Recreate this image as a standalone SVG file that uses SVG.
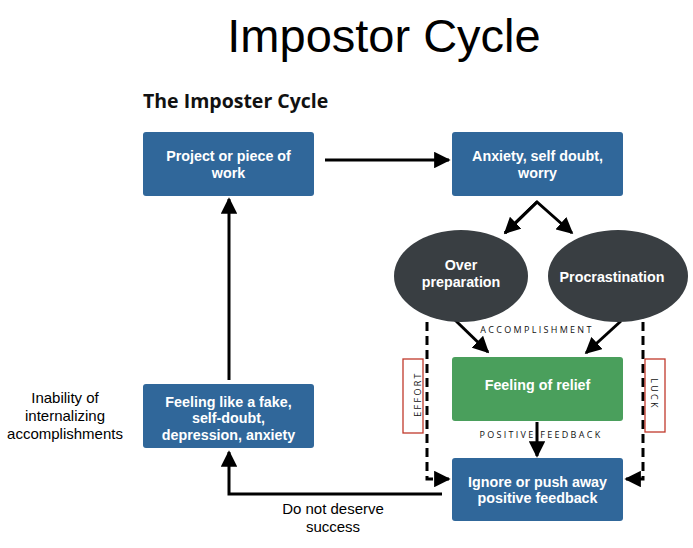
<svg xmlns="http://www.w3.org/2000/svg" width="693" height="548" viewBox="0 0 693 548">
<style>
.box{fill:#30679a}
.ell{fill:#393e42}
.green{fill:#4a9f5c}
.bt{font-family:"Liberation Sans",Arial,sans-serif;font-weight:700;font-size:14.3px;fill:#fff;text-anchor:middle}
.lbl{font-family:"Liberation Sans",Arial,sans-serif;font-size:15px;fill:#000;text-anchor:middle}
.cap{font-family:"Open Sans","Noto Sans",sans-serif;font-size:9px;letter-spacing:2.3px;fill:#111;text-anchor:middle}
.ln{stroke:#000;stroke-width:3;fill:none}
.dash{stroke:#000;stroke-width:3;fill:none;stroke-dasharray:9,5}
.tag{fill:#fff;stroke:#c0392b;stroke-width:1.3}
</style>
<defs>
<marker id="ah" viewBox="0 0 10 10" refX="9" refY="5" markerWidth="5.5" markerHeight="5.5" markerUnits="strokeWidth" orient="auto">
<path d="M0,0 L10,5 L0,10 Z" fill="#000"/>
</marker>
</defs>
<rect width="693" height="548" fill="#fff"/>
<text x="384" y="52" font-family="Liberation Sans,Arial,sans-serif" font-size="47" text-anchor="middle" fill="#000">Impostor Cycle</text>
<text x="143" y="108" font-family="Open Sans,Noto Sans,sans-serif" font-weight="700" font-size="19.5" fill="#111">The Imposter Cycle</text>

<g id="connectors">
<line class="ln" x1="325" y1="160" x2="449" y2="160" marker-end="url(#ah)"/>
<polyline class="ln" points="505,233 537,202 572,233" marker-end="url(#ah)"/>
<line class="ln" x1="537" y1="202" x2="505" y2="233" marker-end="url(#ah)"/>
<line class="ln" x1="455" y1="320" x2="488" y2="352" marker-end="url(#ah)"/>
<line class="ln" x1="621" y1="321" x2="586" y2="353" marker-end="url(#ah)"/>
<line class="ln" x1="537" y1="422" x2="537" y2="456" marker-end="url(#ah)"/>
<polyline class="dash" points="427,322 427,479 440,479"/>
<line class="ln" x1="436" y1="479" x2="449" y2="479" marker-end="url(#ah)"/>
<polyline class="dash" points="643,322 643,479 630,479"/>
<line class="ln" x1="634" y1="479" x2="626" y2="479" marker-end="url(#ah)"/>
<polyline class="ln" points="442,494 229,494 229,452" marker-end="url(#ah)"/>
<line class="ln" x1="229" y1="380" x2="229" y2="199" marker-end="url(#ah)"/>
</g>

<g id="project">
<rect class="box" x="143" y="132" width="171" height="64" rx="3"/>
<text class="bt" x="228.5" y="161">Project or piece of</text>
<text class="bt" x="228.5" y="177.5">work</text>
</g>
<g id="anxiety">
<rect class="box" x="452" y="132" width="171" height="64" rx="3"/>
<text class="bt" x="537.5" y="161">Anxiety, self doubt,</text>
<text class="bt" x="537.5" y="177.5">worry</text>
</g>
<g id="overprep">
<ellipse class="ell" cx="461" cy="276" rx="67" ry="46"/>
<text class="bt" x="461" y="270">Over</text>
<text class="bt" x="461" y="286.5">preparation</text>
</g>
<g id="procrastination">
<ellipse class="ell" cx="618" cy="276" rx="70" ry="46"/>
<text class="bt" x="612" y="282">Procrastination</text>
</g>
<g id="accomplishment">
<text class="cap" x="537" y="333">ACCOMPLISHMENT</text>
</g>
<g id="positive-feedback">
<text class="cap" x="541" y="438">POSITIVE FEEDBACK</text>
</g>
<g id="relief">
<rect class="green" x="452" y="357" width="171" height="64" rx="3"/>
<text class="bt" x="537.5" y="390">Feeling of relief</text>
</g>
<g id="ignore">
<rect class="box" x="452" y="458" width="171" height="63" rx="3"/>
<text class="bt" x="537.5" y="486.5">Ignore or push away</text>
<text class="bt" x="537.5" y="503">positive feedback</text>
</g>
<g id="effort">
<rect class="tag" x="403" y="359" width="20" height="74"/>
<text class="cap" transform="translate(420.5,394) rotate(-90)" x="0" y="0">EFFORT</text>
</g>
<g id="luck">
<rect class="tag" x="645" y="359" width="20" height="73"/>
<text class="cap" transform="translate(650.5,394) rotate(90)" x="0" y="0">LUCK</text>
</g>
<g id="fake">
<rect class="box" x="143" y="384" width="171" height="64" rx="3"/>
<text class="bt" x="228.5" y="406.5">Feeling like a fake,</text>
<text class="bt" x="228.5" y="423">self-doubt,</text>
<text class="bt" x="228.5" y="439.5">depression, anxiety</text>
</g>
<g id="label-inability">
<text class="lbl" x="65" y="403">Inability of</text>
<text class="lbl" x="65" y="421">internalizing</text>
<text class="lbl" x="65" y="439">accomplishments</text>
</g>
<g id="label-deserve">
<text class="lbl" x="333" y="514">Do not deserve</text>
<text class="lbl" x="333" y="532">success</text>
</g>
</svg>
